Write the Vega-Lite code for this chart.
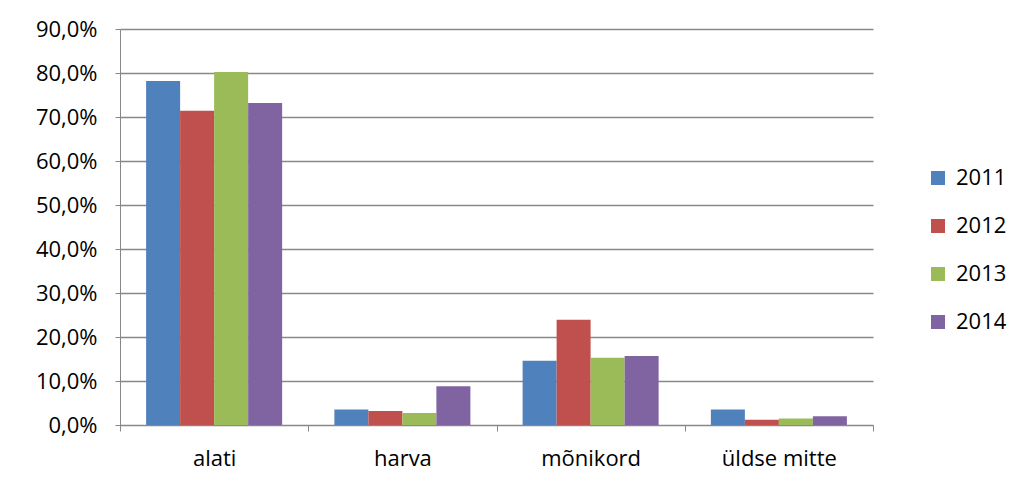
{
  "$schema": "https://vega.github.io/schema/vega-lite/v6.json",
  "width": 753,
  "height": 396,
  "autosize": {"type": "none"},
  "padding": {"left": 120, "top": 29, "right": 144, "bottom": 57},
  "background": "white",
  "config": {
    "locale": {"number": {"decimal": ",", "thousands": " ", "grouping": [3], "currency": ["", " €"]}},
    "view": {"stroke": null},
    "font": "Open Sans"
  },
  "data": {
    "values": [
      {"kategooria": "alati", "aasta": "2011", "osakaal": 0.782},
      {"kategooria": "alati", "aasta": "2012", "osakaal": 0.714},
      {"kategooria": "alati", "aasta": "2013", "osakaal": 0.802},
      {"kategooria": "alati", "aasta": "2014", "osakaal": 0.732},
      {"kategooria": "harva", "aasta": "2011", "osakaal": 0.035},
      {"kategooria": "harva", "aasta": "2012", "osakaal": 0.032},
      {"kategooria": "harva", "aasta": "2013", "osakaal": 0.027},
      {"kategooria": "harva", "aasta": "2014", "osakaal": 0.088},
      {"kategooria": "mõnikord", "aasta": "2011", "osakaal": 0.146},
      {"kategooria": "mõnikord", "aasta": "2012", "osakaal": 0.239},
      {"kategooria": "mõnikord", "aasta": "2013", "osakaal": 0.153},
      {"kategooria": "mõnikord", "aasta": "2014", "osakaal": 0.157},
      {"kategooria": "üldse mitte", "aasta": "2011", "osakaal": 0.035},
      {"kategooria": "üldse mitte", "aasta": "2012", "osakaal": 0.012},
      {"kategooria": "üldse mitte", "aasta": "2013", "osakaal": 0.015},
      {"kategooria": "üldse mitte", "aasta": "2014", "osakaal": 0.020}
    ]
  },
  "mark": {"type": "bar"},
  "encoding": {
    "x": {
      "field": "kategooria",
      "type": "nominal",
      "sort": ["alati", "harva", "mõnikord", "üldse mitte"],
      "scale": {"paddingInner": 0, "paddingOuter": 0},
      "axis": {
        "title": null,
        "labelAngle": 0,
        "labelFontSize": 22,
        "labelColor": "#000000",
        "labelPadding": 17,
        "tickBand": "extent",
        "tickSize": 6,
        "tickColor": "#888888",
        "domainColor": "#888888",
        "grid": false
      }
    },
    "xOffset": {
      "field": "aasta",
      "type": "nominal",
      "scale": {"paddingInner": 0, "paddingOuter": 0.768}
    },
    "y": {
      "field": "osakaal",
      "type": "quantitative",
      "scale": {"domain": [0, 0.9], "nice": false},
      "axis": {
        "title": null,
        "format": ".1%",
        "values": [0, 0.1, 0.2, 0.3, 0.4, 0.5, 0.6, 0.7, 0.8, 0.9],
        "labelFontSize": 22,
        "labelColor": "#000000",
        "labelPadding": 18,
        "tickSize": 5,
        "tickColor": "#888888",
        "domainColor": "#888888",
        "gridColor": "#888888",
        "gridWidth": 1.3
      }
    },
    "color": {
      "field": "aasta",
      "type": "nominal",
      "scale": {"range": ["#4F81BD", "#C0504D", "#9BBB59", "#8064A2"]},
      "legend": {
        "title": null,
        "orient": "none",
        "legendX": 807,
        "legendY": 138,
        "padding": 0,
        "symbolType": "square",
        "symbolSize": 196,
        "symbolStrokeWidth": 0,
        "labelFontSize": 22,
        "labelColor": "#000000",
        "labelOffset": 7,
        "rowPadding": 26
      }
    }
  }
}
